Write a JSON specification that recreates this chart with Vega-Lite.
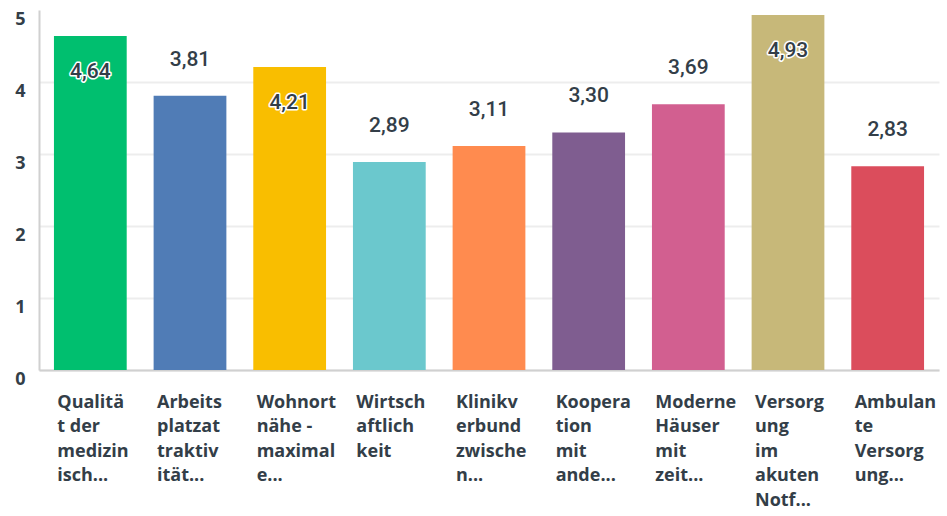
{
  "$schema": "https://vega.github.io/schema/vega-lite/v6.json",
  "width": 900,
  "height": 360,
  "autosize": {"type": "none"},
  "padding": {"left": 39, "top": 10, "right": 8, "bottom": 146},
  "background": "white",
  "config": {
    "view": {"stroke": null},
    "locale": {"number": {"decimal": ",", "thousands": ".", "grouping": [3], "currency": ["", " €"]}}
  },
  "data": {
    "values": [
      {"cat": "Qualitä|t der|medizin|isch...", "value": 4.64},
      {"cat": "Arbeits|platzat|traktiv|ität...", "value": 3.81},
      {"cat": "Wohnort|nähe -|maximal|e...", "value": 4.21},
      {"cat": "Wirtsch|aftlich|keit", "value": 2.89},
      {"cat": "Klinikv|erbund|zwische|n...", "value": 3.11},
      {"cat": "Koopera|tion|mit|ande...", "value": 3.30},
      {"cat": "Moderne|Häuser|mit|zeit...", "value": 3.69},
      {"cat": "Versorg|ung|im|akuten|Notf...", "value": 4.93},
      {"cat": "Ambulan|te|Versorg|ung...", "value": 2.83}
    ]
  },
  "encoding": {
    "x": {
      "field": "cat", "type": "nominal", "sort": null,
      "scale": {"paddingInner": 0.27, "paddingOuter": 0.15},
      "axis": {
        "title": null, "ticks": false, "domainColor": "#d0d0d0", "domainWidth": 2,
        "labelAngle": 0, "labelAlign": "left", "labelOffset": -33, "labelBaseline": "top",
        "labelPadding": 23, "labelFont": "Open Sans", "labelFontWeight": 700, "labelFontSize": 18,
        "labelColor": "#333e48", "labelLineHeight": 24.5, "labelLimit": 0, "labelOverlap": false,
        "labelExpr": "split(datum.label, '|')"
      }
    },
    "y": {
      "field": "value", "type": "quantitative",
      "scale": {"domain": [0, 5], "nice": false},
      "axis": {
        "title": null, "ticks": false, "values": [0, 1, 2, 3, 4, 5], "labelOverlap": false,
        "domain": true, "domainColor": "#d0d0d0", "domainWidth": 2,
        "gridColor": "#ededed", "gridWidth": 2,
        "gridOpacity": {"condition": {"test": "datum.value >= 5", "value": 0}, "value": 1},
        "labelFont": "Open Sans", "labelFontWeight": 700, "labelFontSize": 18,
        "labelColor": "#333e48", "labelPadding": 14, "labelOffset": 9
      }
    }
  },
  "layer": [
    {
      "mark": {"type": "bar"},
      "encoding": {
        "color": {
          "field": "cat", "type": "nominal", "sort": null, "legend": null,
          "scale": {"range": ["#00bf6f", "#507cb6", "#f9be00", "#6bc8cd", "#ff8b4f", "#7f5d90", "#d25f90", "#c7b879", "#db4d5c"]}
        }
      }
    },
    {
      "transform": [{"filter": "datum.value <= 4"}],
      "mark": {"type": "text", "baseline": "middle", "dy": -36, "font": "Roboto", "fontSize": 21, "fontWeight": 500, "color": "#333e48"},
      "encoding": {"text": {"field": "value", "type": "quantitative", "format": ".2f"}}
    },
    {
      "transform": [{"filter": "datum.value > 4"}],
      "mark": {"type": "text", "baseline": "middle", "dy": 36, "font": "Roboto", "fontSize": 21, "fontWeight": 500, "fill": "#333e48", "stroke": "white", "strokeWidth": 3, "strokeJoin": "round"},
      "encoding": {"text": {"field": "value", "type": "quantitative", "format": ".2f"}}
    },
    {
      "transform": [{"filter": "datum.value > 4"}],
      "mark": {"type": "text", "baseline": "middle", "dy": 36, "font": "Roboto", "fontSize": 21, "fontWeight": 500, "color": "#333e48"},
      "encoding": {"text": {"field": "value", "type": "quantitative", "format": ".2f"}}
    }
  ]
}
